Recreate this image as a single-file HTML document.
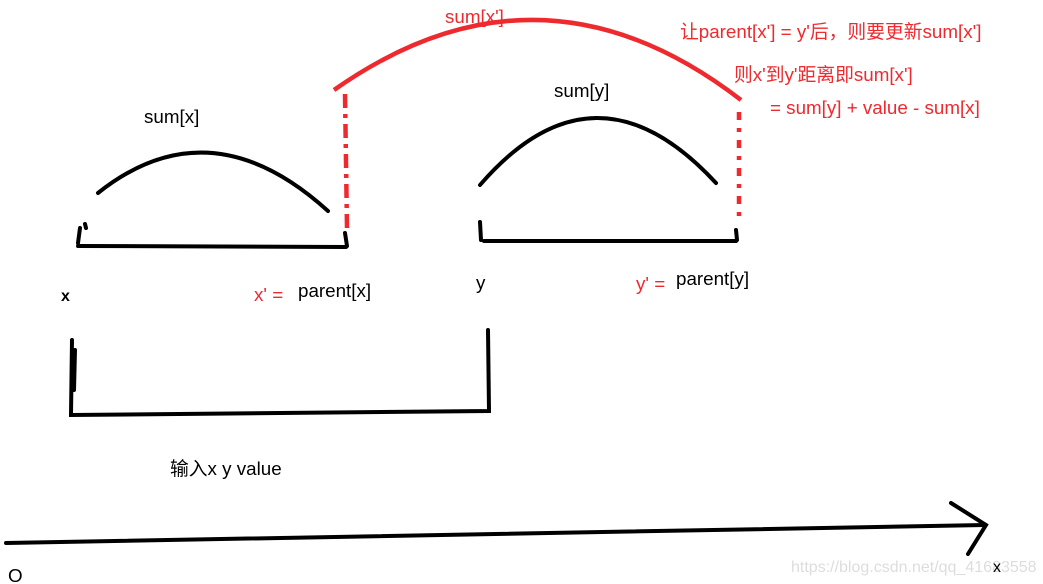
<!DOCTYPE html>
<html><head><meta charset="utf-8"><style>
html,body{margin:0;padding:0;background:#fff;width:1043px;height:584px;overflow:hidden}
svg{display:block}
text{font-family:"Liberation Sans","Noto Sans CJK SC",sans-serif;font-size:18.8px}
.r{fill:#ee2a2f}
</style></head><body>
<svg width="1043" height="584" viewBox="0 0 1043 584">
<g stroke="#000" stroke-width="4" fill="none" stroke-linecap="round">
<path d="M78 246 L346 247"/>
<path d="M78 243 L80 228 M85 224 L86 228"/>
<path d="M345 233 L347 246"/>
<path d="M98 193 Q210 104 328 211"/>
<path d="M484 241 L736 241"/>
<path d="M480 222 L481 240 M736 230 L737 240"/>
<path d="M480 185 Q595 52 716 183"/>
<path d="M72 340 L71 415 L489 411 L488 330 M75 350 L74 390"/>
<path d="M6 543 L985 525"/>
<path d="M951 503 L986 525 L968 554"/>
</g>
<g stroke="#ee2a2f" stroke-width="4.5" fill="none">
<path d="M334 90 Q540 -55 741 100"/>
<path d="M345 94 L347 228" stroke-dasharray="14 6 4 6"/>
<path d="M739 112 L739 222" stroke-dasharray="8 8 4 8"/>
</g>
<text x="144" y="123">sum[x]</text>
<text x="554" y="97">sum[y]</text>
<text class="r" x="445" y="23">sum[x']</text>
<text class="r" x="680" y="38">让parent[x'] = y'后，则要更新sum[x']</text>
<text class="r" x="734" y="81">则x'到y'距离即sum[x']</text>
<text class="r" x="770" y="114">= sum[y] + value - sum[x]</text>
<text x="61" y="301" font-weight="bold" style="font-size:16px">x</text>
<text class="r" x="254" y="301">x' =</text>
<text x="298" y="297">parent[x]</text>
<text x="476" y="289">y</text>
<text class="r" x="636" y="290">y' =</text>
<text x="676" y="285">parent[y]</text>
<text x="170" y="475">输入x y value</text>
<text x="8" y="582">O</text>
<text x="791" y="572" style="font-size:16px;fill:#ddd">https://blog.csdn.net/qq_41683558</text>
<text x="993" y="572" style="font-size:16px">x</text>
</svg>
</body></html>
